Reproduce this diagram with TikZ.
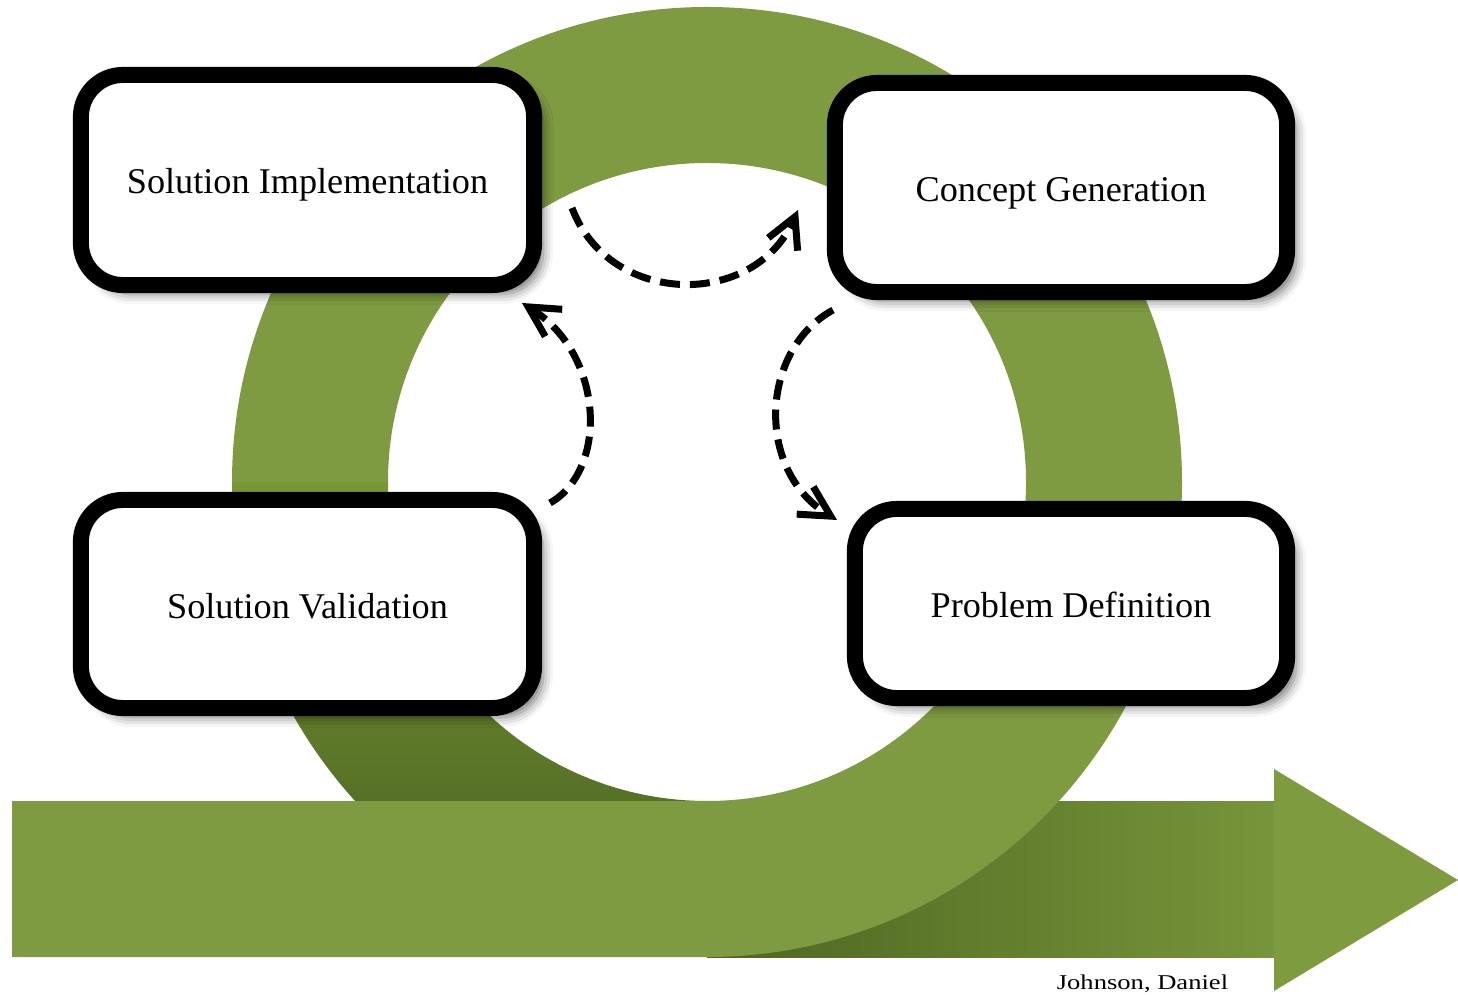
\documentclass[tikz,border=0pt]{standalone}
\usepackage{fontspec}
\setmainfont{Liberation Serif}
\usetikzlibrary{arrows.meta,shadows.blur}
\definecolor{grn}{RGB}{127,155,65}
\definecolor{grnhead}{RGB}{126,155,64}
\definecolor{sectop}{RGB}{123,151,51}
\definecolor{secbot}{RGB}{86,113,38}
\definecolor{bandL}{RGB}{76,102,33}
\definecolor{bandM}{RGB}{105,137,49}
\definecolor{bandR}{RGB}{119,149,58}
\begin{document}
\begin{tikzpicture}[x=0.01cm,y=-0.01cm,
  stage/.style={draw=black, fill=white, line width=0.16cm, rounded corners=0.42cm,
    inner sep=0pt, text height=0.28cm, text depth=0cm,
    font=\fontsize{10.3}{12}\selectfont,
    blur shadow={shadow xshift=0.09cm, shadow yshift=-0.09cm, shadow blur radius=0.1cm, shadow opacity=55}},
  cyc/.style={line width=0.07cm, dash pattern=on 0.2cm off 0.1cm,
    -{Straight Barb[length=0.3cm,width=0.32cm]}}]
\useasboundingbox (0,0) rectangle (1458,995);
% right part of the band (behind)
\shade[left color=bandL, middle color=bandM, right color=bandR] (707,801) rectangle (1275,957);
% arrow head
\fill[grnhead] (1274,769) -- (1458,880) -- (1274,991) -- cycle;
% lower-left quadrant of the ring (behind)
\begin{scope}
\clip (707,801) arc[start angle=90,end angle=180,radius=319] -- (232,482)
      arc[start angle=180,end angle=90,radius=475] -- cycle;
\shade[top color=sectop, bottom color=secbot] (200,480) rectangle (720,802);
\end{scope}
% front piece: left band + ring
\fill[grn] (12,801) -- (707,801) arc[start angle=90,end angle=-180,radius=319] -- (232,482)
      arc[start angle=-180,end angle=90,radius=475] -- (12,957) -- cycle;
% boxes
\node[stage, minimum width=4.53cm, minimum height=2.10cm] (si) at (307.5,180) {Solution Implementation};
\node[stage, minimum width=4.52cm, minimum height=2.09cm] (cg) at (1061,187.5) {Concept Generation};
\node[stage, minimum width=4.53cm, minimum height=2.08cm] (sv) at (307.5,604) {Solution Validation};
\node[stage, minimum width=4.32cm, minimum height=1.89cm] (pd) at (1071,603.5) {Problem Definition};
% dashed cycle arrows
\coordinate (a1s) at (572,208); \coordinate (a1e) at (798,210);
\draw[cyc] (a1s) .. controls (610,308) and (755,308) .. (a1e);
\coordinate (a2s) at (833,310); \coordinate (a2e) at (837,520);
\draw[cyc] (a2s) .. controls (760,350) and (755,470) .. (a2e);
\coordinate (a3s) at (550,503); \coordinate (a3e) at (522,303);
\draw[cyc] (a3s) .. controls (608,470) and (605,355) .. (a3e);
% credit
\node[anchor=base, font=\fontsize{6}{7}\selectfont, inner sep=0pt] (credit) at (1142.5,989) {\scalebox{1.26}[1]{Johnson, Daniel}};
\end{tikzpicture}
\end{document}
